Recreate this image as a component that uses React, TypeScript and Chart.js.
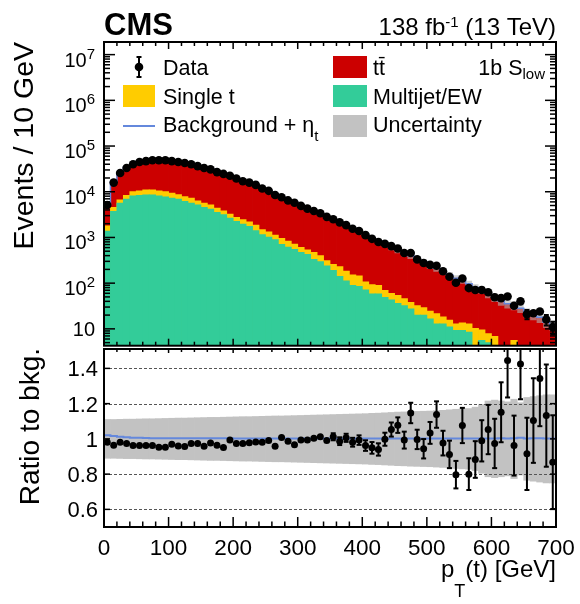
import React, { useEffect, useRef } from 'react';
import { Chart, registerables } from 'chart.js';

Chart.register(...registerables);

const FONT = '"Liberation Sans", Arial, Helvetica, sans-serif';

// ---------------- data ----------------
const BIN_EDGES = [
  0, 10, 20, 30, 40, 50, 60, 70, 80, 90, 100, 110, 120, 130, 140, 150, 160, 170, 180, 190,
  200, 210, 220, 230, 240, 250, 260, 270, 280, 290, 300, 310, 320, 330, 340, 350, 360, 370, 380, 390,
  400, 410, 420, 430, 440, 450, 460, 470, 480, 490, 500, 510, 520, 530, 540, 550, 560, 570, 580, 590,
  600, 610, 620, 630, 640, 650, 660, 670, 680, 690, 700,
];

const DATA = [
  5130, 15850, 25700, 33110, 39810, 44670, 46770, 48980, 48980, 48980,
  46770, 44670, 42660, 39810, 36310, 33110, 30900, 26920, 24550, 22390,
  19500, 16980, 15850, 14130, 11750, 10470, 8510, 7590, 6460, 5750,
  4900, 4270, 3800, 3390, 2820, 2510, 2140, 1860, 1550, 1380,
  1122, 933, 794, 724, 646, 575, 457, 457, 331, 275,
  251, 240, 182, 138, 102, 126, 78, 71, 71, 63,
  49, 47, 51, 32, 40, 21, 22, 24, 16, 11,
];

const TTBAR = [
  3440, 11870, 19570, 25640, 31400, 35980, 37680, 39970, 40930, 41400,
  38860, 37890, 36800, 33590, 30930, 28970, 26570, 23550, 22020, 19300,
  17250, 14970, 14030, 12500, 10490, 9250, 7770, 6580, 5710, 5233,
  4329, 3760, 3320, 2950, 2540, 2230, 1940, 1670, 1430, 1245,
  1060, 891, 756, 657, 554, 479, 414, 360, 299, 263,
  218, 190, 168, 136, 115, 104, 84, 70, 62.5, 52,
  43, 37.5, 32.3, 27.3, 24.9, 20.4, 17.8, 15.4, 11.5, 9.8,
];

const SINGLE_TOP = [
  400, 850, 990, 1400, 1870, 2150, 2450, 2450, 2340, 2240,
  2090, 1750, 1600, 1620, 1180, 1050, 960, 820, 640, 610,
  510, 500, 450, 450, 330, 300, 229, 247, 215, 160,
  135, 110, 137, 103, 69, 66, 88, 70, 62, 60,
  36, 35, 31, 20, 17, 18, 14, 10.5, 12, 9,
  7.9, 8.5, 5.3, 4.5, 3.6, 4.2, 4.4, 7, 3.9, 2.9,
  4.3, 1.7, 1.4, 4.0, 1.4, 1.0, 1.0, 1.0, 1.0, 1.0,
];

const MULTIJET = [
  1380, 3720, 5620, 6920, 8130, 8320, 8510, 8510, 8130, 7760,
  7240, 6920, 6170, 5620, 5130, 4570, 4170, 3550, 3160, 2630,
  2240, 1950, 1740, 1410, 1150, 1020, 891, 708, 617, 550,
  468, 427, 331, 295, 240, 191, 141, 112, 89, 85,
  71, 58, 58, 49, 43, 36, 32, 27.5, 20, 20,
  16.6, 12.9, 12.9, 11, 9.3, 9.3, 8.5, 3.2, 5.6, 5.0,
  2.5, 1.8, 1.8, 1.6, 1.6, 1.5, 1.5, 1.4, 1.4, 1.3,
];

const RATIO = [
  0.981, 0.964, 0.981, 0.974, 0.962, 0.962, 0.962, 0.962, 0.953, 0.953,
  0.970, 0.960, 0.957, 0.974, 0.974, 0.958, 0.976, 0.964, 0.951, 0.993,
  0.974, 0.974, 0.978, 0.983, 0.981, 0.991, 0.958, 1.008, 0.987, 0.966,
  0.993, 0.993, 1.004, 1.012, 0.991, 1.012, 0.987, 1.006, 0.981, 0.993,
  0.962, 0.949, 0.940, 0.998, 1.053, 1.078, 0.993, 1.147, 0.997, 0.944,
  1.034, 1.138, 0.976, 0.912, 0.797, 1.076, 0.800, 0.883, 0.989, 1.053,
  0.974, 1.151, 1.445, 0.962, 1.425, 0.915, 1.104, 1.342, 1.132, 0.868,
];

const RATIO_ERR = [
  0.010, 0.006, 0.005, 0.005, 0.005, 0.005, 0.005, 0.005, 0.005, 0.005,
  0.005, 0.005, 0.005, 0.006, 0.006, 0.006, 0.006, 0.007, 0.007, 0.007,
  0.007, 0.008, 0.008, 0.008, 0.009, 0.009, 0.010, 0.011, 0.012, 0.013,
  0.014, 0.015, 0.016, 0.017, 0.019, 0.020, 0.022, 0.023, 0.025, 0.027,
  0.030, 0.033, 0.035, 0.037, 0.040, 0.044, 0.048, 0.058, 0.055, 0.055,
  0.062, 0.075, 0.070, 0.078, 0.078, 0.100, 0.090, 0.104, 0.117, 0.140,
  0.140, 0.170, 0.210, 0.170, 0.200, 0.205, 0.240, 0.270, 0.290, 0.266,
];

const BKG_UNC = [
  0.110, 0.110, 0.111, 0.112, 0.112, 0.113, 0.114, 0.114, 0.115, 0.116,
  0.117, 0.118, 0.118, 0.119, 0.120, 0.121, 0.122, 0.122, 0.123, 0.124,
  0.125, 0.126, 0.126, 0.127, 0.128, 0.129, 0.130, 0.130, 0.131, 0.132,
  0.133, 0.134, 0.135, 0.136, 0.137, 0.138, 0.139, 0.140, 0.141, 0.142,
  0.143, 0.145, 0.146, 0.148, 0.150, 0.152, 0.153, 0.155, 0.156, 0.157,
  0.158, 0.160, 0.162, 0.165, 0.168, 0.170, 0.172, 0.180, 0.195, 0.215,
  0.220, 0.215, 0.210, 0.225, 0.205, 0.235, 0.240, 0.245, 0.250, 0.250,
];

const SIG_RATIO = [
  1.021, 1.016, 1.012, 1.009, 1.007, 1.006, 1.005, 1.004, 1.004, 1.004,
  1.003, 1.003, 1.003, 1.003, 1.003, 1.003, 1.003, 1.003, 1.003, 1.003,
  1.002, 1.002, 1.002, 1.002, 1.002, 1.002, 1.002, 1.002, 1.002, 1.002,
  1.002, 1.002, 1.002, 1.002, 1.002, 1.002, 1.002, 1.002, 1.002, 1.002,
  1.002, 1.002, 1.002, 1.002, 1.002, 1.002, 1.002, 1.002, 1.002, 1.002,
  1.002, 1.002, 1.002, 1.002, 1.002, 1.002, 1.002, 1.002, 1.002, 1.002,
  1.002, 1.004, 1.002, 1.003, 1.006, 1.002, 1.004, 1.003, 1.002, 1.002,
];

const X_MAJOR = [0, 100, 200, 300, 400, 500, 600, 700];
const X_LABELS = ['0', '100', '200', '300', '400', '500', '600', '700'];
const X_MINOR_STEP = 20;
const LOG_EXPONENTS = [1, 2, 3, 4, 5, 6, 7];
const RATIO_TICKS = [0.6, 0.8, 1.0, 1.2, 1.4];
const RATIO_LABELS = ['0.6', '0.8', '1', '1.2', '1.4'];
const RATIO_GRID = [0.6, 0.8, 1.2, 1.4];

const C_TT = '#cc0000';
const C_ST = '#ffcc00';
const C_MJ = '#33cc99';
const C_UNC = '#c2c2c2';
const C_SIG = '#6488dc';

// ---------------- derived tables ----------------
const centers = BIN_EDGES.slice(0, -1).map((e, i) => (e + BIN_EDGES[i + 1]) / 2);
const stTop = MULTIJET.map((v, i) => v + SINGLE_TOP[i]);
const bkgTotal = stTop.map((v, i) => v + TTBAR[i]);
const stepPts = (vals: number[]) =>
  BIN_EDGES.map((e, i) => ({ x: e, y: vals[Math.min(i, vals.length - 1)] }));
const barPts = (vals: number[]) => centers.map((c, i) => ({ x: c, y: vals[i] }));

type Part = { t: string; size: number; dy?: number; bold?: boolean };
function drawRich(ctx: CanvasRenderingContext2D, parts: Part[], x: number, y: number, align: 'left' | 'right' | 'center') {
  const widths = parts.map((p) => {
    ctx.font = `${p.bold ? 'bold ' : ''}${p.size}px ${FONT}`;
    return ctx.measureText(p.t).width;
  });
  const total = widths.reduce((a, b) => a + b, 0);
  let cx = align === 'right' ? x - total : align === 'center' ? x - total / 2 : x;
  ctx.textAlign = 'left';
  ctx.textBaseline = 'alphabetic';
  parts.forEach((p, i) => {
    ctx.font = `${p.bold ? 'bold ' : ''}${p.size}px ${FONT}`;
    ctx.fillText(p.t, cx, y + (p.dy || 0));
    cx += widths[i];
  });
}

function line(ctx: CanvasRenderingContext2D, x1: number, y1: number, x2: number, y2: number) {
  ctx.beginPath();
  ctx.moveTo(x1, y1);
  ctx.lineTo(x2, y2);
  ctx.stroke();
}

function drawErrorBars(chart: any, vals: number[], errs: number[], minPx: number) {
  const { ctx, chartArea: a, scales } = chart;
  const xs = scales.x;
  const ys = scales.y;
  ctx.save();
  ctx.beginPath();
  ctx.rect(a.left, a.top, a.right - a.left, a.bottom - a.top);
  ctx.clip();
  ctx.strokeStyle = '#000';
  ctx.lineWidth = 2;
  vals.forEach((v, i) => {
    const e = errs[i];
    const x = xs.getPixelForValue(centers[i]);
    const y1 = ys.getPixelForValue(v + e);
    const y2 = ys.getPixelForValue(Math.max(v - e, 1e-6));
    if (y2 - y1 < minPx) return;
    line(ctx, x, y1, x, y2);
    line(ctx, x - 2.5, y1, x + 2.5, y1);
    line(ctx, x - 2.5, y2, x + 2.5, y2);
  });
  ctx.restore();
}

function drawXTicks(ctx: CanvasRenderingContext2D, xs: any, a: any, topMaj: number, topMin: number, botMaj: number, botMin: number) {
  for (let v = 0; v <= 700; v += X_MINOR_STEP) {
    const x = xs.getPixelForValue(v);
    const major = X_MAJOR.includes(v);
    const lt = major ? topMaj : topMin;
    const lb = major ? botMaj : botMin;
    line(ctx, x, a.top, x, a.top + lt);
    line(ctx, x, a.bottom, x, a.bottom - lb);
  }
}

const topPlugin = {
  id: 'topDecor',
  afterDatasetsDraw(chart: any) {
    const topErr = DATA.map((d, i) => (d * RATIO_ERR[i]) / RATIO[i]);
    drawErrorBars(chart, DATA, topErr, 9);
  },
  afterDraw(chart: any) {
    const { ctx, chartArea: a, scales } = chart;
    const xs = scales.x;
    const ys = scales.y;
    ctx.save();
    ctx.strokeStyle = '#000';
    ctx.fillStyle = '#000';
    // ticks
    ctx.lineWidth = 1.5;
    drawXTicks(ctx, xs, a, 7, 4, 7, 4);
    for (let k = 0; k <= 7; k++) {
      for (let m = 1; m <= 9; m++) {
        const v = m * Math.pow(10, k);
        if (v < ys.min || v > ys.max) continue;
        const y = ys.getPixelForValue(v);
        const len = m === 1 ? 11 : 6;
        line(ctx, a.left, y, a.left + len, y);
        line(ctx, a.right, y, a.right - len, y);
      }
    }
    // frame
    ctx.lineWidth = 2;
    ctx.strokeRect(a.left, a.top, a.right - a.left, a.bottom - a.top);
    // y tick labels
    LOG_EXPONENTS.forEach((ex) => {
      const y = ys.getPixelForValue(Math.pow(10, ex));
      if (ex === 1) drawRich(ctx, [{ t: '10', size: 20 }], 95, y + 7.5, 'right');
      else drawRich(ctx, [{ t: '10', size: 20 }, { t: String(ex), size: 15, dy: -8 }], 95, y + 12, 'right');
    });
    // y title
    ctx.save();
    ctx.translate(33, a.top);
    ctx.rotate(-Math.PI / 2);
    ctx.font = `28.5px ${FONT}`;
    ctx.textAlign = 'right';
    ctx.textBaseline = 'alphabetic';
    ctx.fillText('Events / 10 GeV', 0, 0);
    ctx.restore();
    // header
    drawRich(ctx, [{ t: 'CMS', size: 31, bold: true }], a.left, 35, 'left');
    drawRich(ctx, [{ t: '138 fb', size: 24 }, { t: '-1', size: 15, dy: -8 }, { t: ' (13 TeV)', size: 24 }], a.right, 35, 'right');
    // legend
    const LF = 21.5;
    ctx.fillStyle = '#000';
    ctx.beginPath();
    ctx.arc(139, 67, 4.3, 0, Math.PI * 2);
    ctx.fill();
    ctx.lineWidth = 2;
    line(ctx, 139, 57, 139, 77);
    line(ctx, 136.5, 57, 141.5, 57);
    line(ctx, 136.5, 77, 141.5, 77);
    drawRich(ctx, [{ t: 'Data', size: LF }], 163, 75, 'left');
    ctx.fillStyle = C_TT;
    ctx.fillRect(333, 56, 34, 22);
    ctx.fillStyle = '#000';
    drawRich(ctx, [{ t: 't\u0074\u0304', size: LF }], 373, 75, 'left');
    ctx.fillStyle = C_ST;
    ctx.fillRect(123, 85, 32, 22);
    ctx.fillStyle = '#000';
    drawRich(ctx, [{ t: 'Single t', size: LF }], 163, 103.5, 'left');
    ctx.fillStyle = C_MJ;
    ctx.fillRect(333, 85, 34, 22);
    ctx.fillStyle = '#000';
    drawRich(ctx, [{ t: 'Multijet/EW', size: LF }], 373, 103.5, 'left');
    ctx.strokeStyle = C_SIG;
    ctx.lineWidth = 2;
    line(ctx, 123, 126, 155, 126);
    drawRich(ctx, [{ t: 'Background + \u03b7', size: LF }, { t: 't', size: 15, dy: 9 }], 163, 132, 'left');
    ctx.fillStyle = C_UNC;
    ctx.fillRect(333, 115, 34, 22);
    ctx.fillStyle = '#000';
    drawRich(ctx, [{ t: 'Uncertainty', size: LF }], 373, 132, 'left');
    drawRich(ctx, [{ t: '1b S', size: LF }, { t: 'low', size: 15, dy: 3.5 }], 545, 75, 'right');
    ctx.restore();
  },
};

const OFFSET_BOTTOM = 340;

const ratioPlugin = {
  id: 'ratioDecor',
  afterDatasetDraw(chart: any, args: any) {
    if (args.index !== 2) return;
    const { ctx, chartArea: a, scales } = chart;
    ctx.save();
    ctx.strokeStyle = '#555';
    ctx.lineWidth = 1;
    ctx.setLineDash([3, 2]);
    RATIO_GRID.forEach((v) => {
      const y = Math.round(scales.y.getPixelForValue(v)) + 0.5;
      line(ctx, a.left, y, a.right, y);
    });
    ctx.restore();
  },
  afterDatasetsDraw(chart: any) {
    drawErrorBars(chart, RATIO, RATIO_ERR, 7);
  },
  afterDraw(chart: any) {
    const { ctx, chartArea: a, scales } = chart;
    const xs = scales.x;
    const ys = scales.y;
    ctx.save();
    ctx.strokeStyle = '#000';
    ctx.fillStyle = '#000';
    ctx.lineWidth = 1.5;
    drawXTicks(ctx, xs, a, 4, 3, 10, 5.5);
    RATIO_TICKS.forEach((v) => {
      const y = ys.getPixelForValue(v);
      line(ctx, a.left, y, a.left + 6, y);
      line(ctx, a.right, y, a.right - 6, y);
    });
    ctx.lineWidth = 2;
    ctx.strokeRect(a.left, a.top, a.right - a.left, a.bottom - a.top);
    RATIO_TICKS.forEach((v, i) => {
      const y = ys.getPixelForValue(v);
      drawRich(ctx, [{ t: RATIO_LABELS[i], size: 22 }], 98, y + 8, 'right');
    });
    X_MAJOR.forEach((v, i) => {
      drawRich(ctx, [{ t: X_LABELS[i], size: 22.5 }], xs.getPixelForValue(v), 555 - OFFSET_BOTTOM, 'center');
    });
    drawRich(ctx, [{ t: 'p', size: 24 }, { t: 'T', size: 18, dy: 20 }, { t: '(t) [GeV]', size: 24 }], a.right, 577 - OFFSET_BOTTOM, 'right');
    ctx.save();
    ctx.translate(39, a.top - 1);
    ctx.rotate(-Math.PI / 2);
    ctx.font = `28px ${FONT}`;
    ctx.textAlign = 'right';
    ctx.textBaseline = 'alphabetic';
    ctx.fillText('Ratio to bkg.', 0, 0);
    ctx.restore();
    ctx.restore();
  },
};

const barCommon = {
  type: 'bar' as const,
  grouped: false,
  barPercentage: 1,
  categoryPercentage: 1,
  borderWidth: 0,
  clip: 0,
};

export default function App() {
  const topRef = useRef<HTMLCanvasElement>(null);
  const botRef = useRef<HTMLCanvasElement>(null);

  useEffect(() => {
    if (!topRef.current || !botRef.current) return;
    const top = new Chart(topRef.current, {
      type: 'bar',
      data: {
        datasets: [
          {
            type: 'line',
            label: 'Data',
            data: barPts(DATA),
            showLine: false,
            pointRadius: 4.3,
            pointHoverRadius: 4.3,
            pointBackgroundColor: '#000',
            pointBorderWidth: 0,
            order: 0,
          },
          {
            type: 'line',
            label: 'Background + ηt',
            data: stepPts(bkgTotal.map((v, i) => v * SIG_RATIO[i])),
            stepped: true,
            borderColor: C_SIG,
            borderWidth: 1.5,
            pointRadius: 0,
            fill: false,
            order: 1,
          },
          {
            ...barCommon,
            label: 'Uncertainty',
            data: centers.map((c, i) => ({ x: c, y: [bkgTotal[i] * (1 - BKG_UNC[i]), bkgTotal[i] * (1 + BKG_UNC[i])] })),
            backgroundColor: 'rgba(175,175,175,0.6)',
            inflateAmount: 0,
            order: 2,
          },
          { ...barCommon, label: 'Multijet/EW', data: barPts(MULTIJET), backgroundColor: C_MJ, inflateAmount: 0.4, order: 3 },
          { ...barCommon, label: 'Single t', data: barPts(stTop), backgroundColor: C_ST, inflateAmount: 0.4, order: 4 },
          { ...barCommon, label: 'tt̄', data: barPts(bkgTotal), backgroundColor: C_TT, inflateAmount: 0.4, order: 5 },
        ] as any,
      },
      options: {
        animation: false,
        responsive: true,
        maintainAspectRatio: false,
        events: [],
        layout: { padding: { left: 104, right: 24, top: 42, bottom: 1 } },
        plugins: { legend: { display: false }, tooltip: { enabled: false } },
        scales: {
          x: { type: 'linear', min: 0, max: 700, display: false, offset: false, bounds: 'data' },
          y: { type: 'logarithmic', min: 4.28, max: 1.89e7, display: false, bounds: 'data' },
        },
      } as any,
      plugins: [topPlugin],
    });

    const bot = new Chart(botRef.current, {
      type: 'bar',
      data: {
        datasets: [
          {
            type: 'line',
            label: 'Data / bkg',
            data: barPts(RATIO),
            showLine: false,
            pointRadius: 3.5,
            pointHoverRadius: 3.5,
            pointBackgroundColor: '#000',
            pointBorderWidth: 0,
            order: 0,
          },
          {
            type: 'line',
            label: 'Background + ηt',
            data: stepPts(SIG_RATIO),
            stepped: true,
            borderColor: C_SIG,
            borderWidth: 2,
            pointRadius: 0,
            fill: false,
            order: 1,
          },
          {
            ...barCommon,
            label: 'Uncertainty',
            data: centers.map((c, i) => ({ x: c, y: [1 - BKG_UNC[i], 1 + BKG_UNC[i]] })),
            backgroundColor: C_UNC,
            order: 2,
          },
        ] as any,
      },
      options: {
        animation: false,
        responsive: true,
        maintainAspectRatio: false,
        events: [],
        layout: { padding: { left: 104, right: 24, top: 9, bottom: 77 } },
        plugins: { legend: { display: false }, tooltip: { enabled: false } },
        scales: {
          x: { type: 'linear', min: 0, max: 700, display: false, offset: false, bounds: 'data' },
          y: { type: 'linear', min: 0.5, max: 1.51, display: false, bounds: 'data' },
        },
      } as any,
      plugins: [ratioPlugin],
    });

    return () => {
      top.destroy();
      bot.destroy();
    };
  }, []);

  return (
    <div style={{ position: 'absolute', left: 0, top: 0, width: 580, height: 604, background: '#fff' }}>
      <div style={{ position: 'absolute', left: 0, top: 0, width: 580, height: 350 }}>
        <canvas ref={topRef} />
      </div>
      <div style={{ position: 'absolute', left: 0, top: OFFSET_BOTTOM, width: 580, height: 264 }}>
        <canvas ref={botRef} />
      </div>
    </div>
  );
}
